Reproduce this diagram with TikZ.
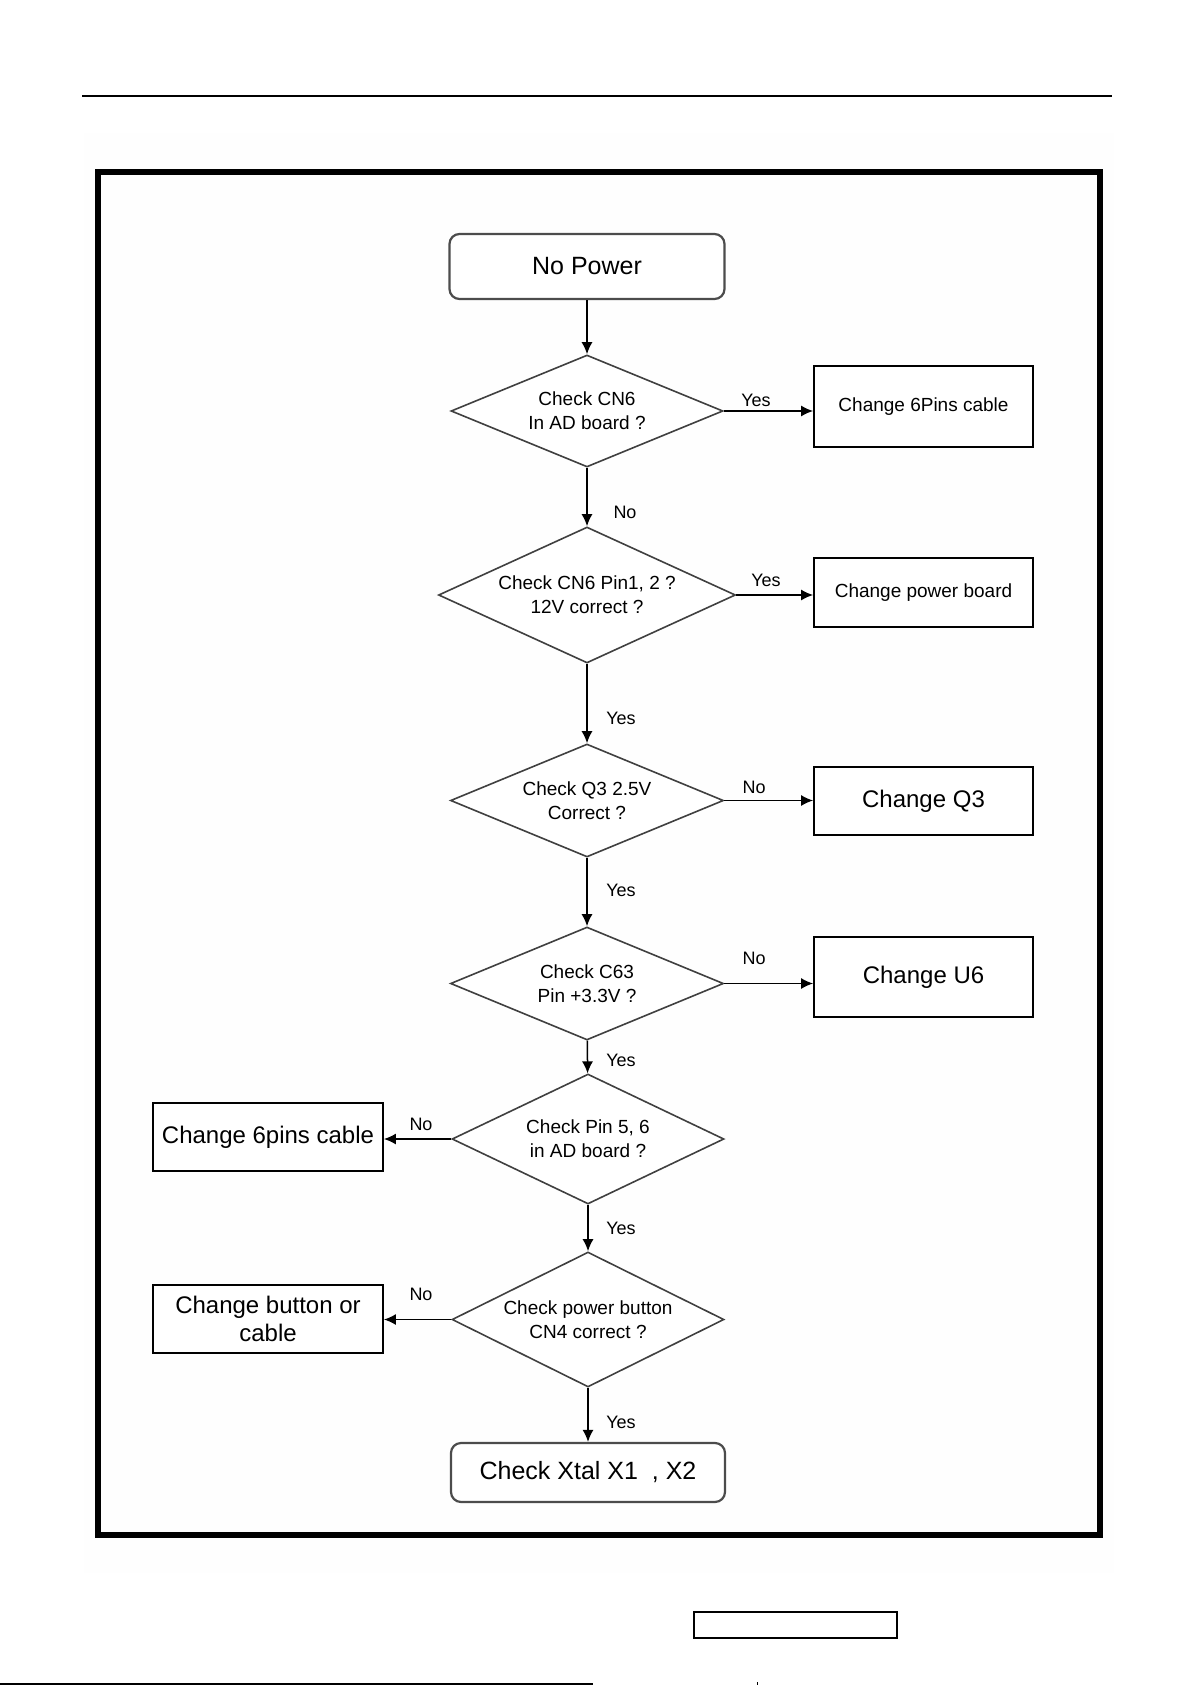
\documentclass[tikz,border=0pt]{standalone}
\usepackage{fontspec}
\setmainfont{Liberation Sans}
\usetikzlibrary{shapes.geometric,arrows.meta}
\begin{document}
\begin{tikzpicture}[x=0.5pt,y=-0.5pt,
  decision/.style={diamond,draw=black!75,line width=0.8pt,inner sep=0pt,fill=white},
  dtext/.style={align=center,font=\fontsize{9.5}{12}\selectfont,inner sep=0pt},
  proc/.style={rectangle,draw=black,line width=0.9pt,inner sep=0pt,fill=white,align=center,minimum width=109.5pt},
  small/.style={font=\fontsize{9.5}{12}\selectfont},
  big/.style={font=\fontsize{12}{14}\selectfont},
  term/.style={rectangle,rounded corners=5pt,draw=black!70,line width=1.1pt,inner sep=0pt,fill=white,align=center,font=\fontsize{12.5}{14}\selectfont},
  lbl/.style={font=\fontsize{9}{10}\selectfont,inner sep=0pt},
  arr/.style={-{Latex[length=6pt,width=5.5pt]},line width=0.75pt,black}
]
\useasboundingbox (0,0) rectangle (1191,1685);
% page decorations
\fill[black!0.5] (84,133) rectangle (1114,1573);
\draw[line width=1.4pt] (82,96) -- (1112,96);
\draw[line width=3pt] (97.5,172.5) rectangle (1100,1535);
\draw[line width=0.6pt] (694,1612) rectangle (897,1638);
\draw[line width=0.6pt] (0,1684) -- (593,1684);
\draw[line width=0.4pt] (757,1682) -- (757,1685);

% nodes
\node[term,minimum width=137.5pt,minimum height=32.5pt] (np) at (587,266.5) {No Power};

\node[decision,minimum width=136pt,minimum height=56pt,label={[dtext]center:Check CN6\\In AD board ?}] (d1) at (587,411) {};
\node[proc,small,minimum height=40.5pt] (b1) at (923.5,406.5) {Change 6Pins cable};

\node[decision,minimum width=148.5pt,minimum height=68pt,label={[dtext]center:Check CN6 Pin1, 2 ?\\12V correct ?}] (d2) at (587,595) {};
\node[proc,small,minimum height=34.5pt] (b2) at (923.5,592.5) {Change power board};

\node[decision,minimum width=136.5pt,minimum height=56.5pt,label={[dtext]center:Check Q3 2.5V\\Correct ?}] (d3) at (587,800.5) {};
\node[proc,big,minimum height=34pt] (b3) at (923.5,801) {Change Q3};

\node[decision,minimum width=136.5pt,minimum height=56.5pt,label={[dtext]center:Check C63\\Pin +3.3V ?}] (d4) at (587,983.5) {};
\node[proc,big,minimum height=40pt] (b4) at (923.5,977) {Change U6};

\node[decision,minimum width=136pt,minimum height=65pt,label={[dtext]center:Check Pin 5, 6\\in AD board ?}] (d5) at (588,1139) {};
\node[proc,big,minimum width=115pt,minimum height=34pt] (b5) at (268,1137) {Change 6pins cable};

\node[decision,minimum width=136pt,minimum height=67.5pt,label={[dtext]center:Check power button\\CN4 correct ?}] (d6) at (588,1319.5) {};
\node[proc,big,minimum width=115pt,minimum height=34pt] (b6) at (268,1319) {Change button or\\cable};

\node[term,minimum width=137pt,minimum height=29.5pt] (end) at (588,1472.5) {Check Xtal X1 \ , X2};

% connectors
\draw[arr] (np) -- (d1);
\draw[arr] (d1.east) -- (b1.west |- d1.east);
\draw[arr] (d1) -- (d2);
\draw[arr] (d2.east) -- (b2.west |- d2.east);
\draw[arr] (d2) -- (d3);
\draw[arr] (d3.east) -- (b3.west |- d3.east);
\draw[arr] (d3) -- (d4);
\draw[arr] (d4.east) -- (b4.west |- d4.east);
\draw[arr] (d4) -- (d5);
\draw[arr] (d5.west) -- (b5.east |- d5.west);
\draw[arr] (d5) -- (d6);
\draw[arr] (d6.west) -- (b6.east |- d6.west);
\draw[arr] (d6) -- (end);

% labels
\node[lbl] (l1) at (756,400) {Yes};
\node[lbl] (l2) at (625,512) {No};
\node[lbl] (l3) at (766,580) {Yes};
\node[lbl] (l4) at (621,718) {Yes};
\node[lbl] (l5) at (754,787) {No};
\node[lbl] (l6) at (621,890) {Yes};
\node[lbl] (l7) at (754,958) {No};
\node[lbl] (l8) at (621,1060) {Yes};
\node[lbl] (l9) at (421,1124) {No};
\node[lbl] (l10) at (621,1228) {Yes};
\node[lbl] (l11) at (421,1294) {No};
\node[lbl] (l12) at (621,1422) {Yes};
\end{tikzpicture}
\end{document}
